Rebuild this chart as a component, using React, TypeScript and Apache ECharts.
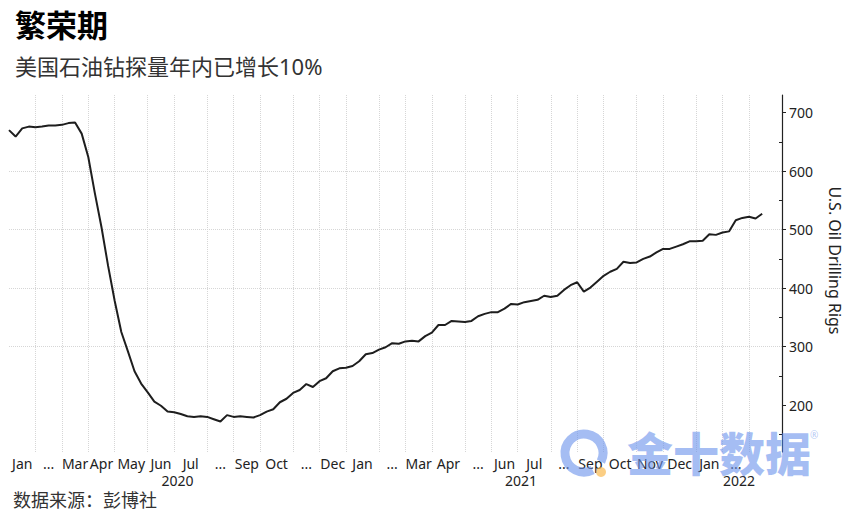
import React, { useEffect, useRef } from 'react'
import * as echarts from 'echarts'

// 每月的周数（2020年1月 ~ 2022年3月，周五数据）
const weeksInMonth = [5, 4, 4, 4, 5, 4, 5, 4, 4, 5, 4, 4, 5, 4, 4, 5, 4, 4, 5, 4, 4, 5, 4, 5, 4, 4, 2]
// 月份刻度标签（空间不够的月份用 ...）
const monthLabels = [
  'Jan', '...', 'Mar', 'Apr', 'May', 'Jun', 'Jul', '...', 'Sep', 'Oct', '...', 'Dec',
  'Jan', '...', 'Mar', 'Apr', '...', 'Jun', 'Jul', '...', 'Sep', 'Oct', 'Nov', 'Dec',
  'Jan', '...', '',
]
const yearLabels = ['2020', '2021', '2022']
const monthsInYear = [12, 12, 3]
const padWeeks = 3

// 美国石油钻井数（周）
const rigs = [
  // 2020
  670, 659, 673, 676, 675,
  676, 678, 678, 679,
  682, 683, 664, 624,
  562, 504, 438, 378,
  325, 292, 258, 237, 222,
  206, 199, 189, 188,
  185, 181, 180, 181, 180,
  176, 172, 183, 180,
  181, 180, 179, 183,
  189, 193, 205, 211, 221,
  226, 236, 231, 241,
  246, 258, 263, 264,
  // 2021
  267, 275, 287, 289, 295,
  299, 306, 305, 309,
  310, 309, 318, 324,
  337, 337, 344, 343, 342,
  344, 352, 356, 359,
  359, 365, 373, 372,
  376, 378, 380, 387, 385,
  387, 397, 405, 410,
  394, 401, 411, 421,
  428, 433, 445, 443, 444,
  450, 454, 461, 467,
  467, 471, 475, 480, 480,
  // 2022
  481, 492, 491, 495,
  497, 516, 520, 522,
  519, 527,
]

const yTicks = [200, 300, 400, 500, 600, 700]
const yMinorTicks = [150, 250, 350, 450, 550, 650]

const FONT = "'Noto Sans', 'Noto Sans CJK SC', sans-serif"
const TEXT = '#222'
const GRID = '#d6d6d6'

const App: React.FC = () => {
  const chartRef = useRef<HTMLDivElement>(null)

  useEffect(() => {
    if (!chartRef.current) return
    const chart = echarts.init(chartRef.current, undefined, { renderer: 'svg' })

    // 每月最后一周的位置
    const monthEnds: number[] = []
    let acc = -1
    weeksInMonth.forEach(w => {
      acc += w
      monthEnds.push(acc)
    })
    const totalWeeks = acc + 1 + padWeeks
    const lastIdx = totalWeeks - 1
    const weekCats = Array.from({ length: totalWeeks }, (_, i) => `w${i}`)
    // 半周刻度，用来把标签放在月份中间
    const halfCats = Array.from({ length: 2 * lastIdx + 1 }, (_, i) => `h${i}`)
    const gridIdx = new Set(monthEnds.slice(0, -1))

    const monthAt = new Map<number, string>()
    monthLabels.forEach((m, k) => {
      if (!m) return
      const start = k === 0 ? 0 : monthEnds[k - 1]
      monthAt.set(start + monthEnds[k], m)
    })
    const yearAt = new Map<number, string>()
    let mk = 0
    yearLabels.forEach((y, j) => {
      const start = mk === 0 ? 0 : monthEnds[mk - 1]
      mk += monthsInYear[j]
      const end = mk >= monthEnds.length ? lastIdx : monthEnds[mk - 1]
      yearAt.set(start + end, y)
    })

    const labelAxis = (map: Map<number, string>, offset: number) => ({
      type: 'category' as const,
      data: halfCats,
      boundaryGap: false,
      position: 'bottom' as const,
      offset,
      axisLine: { show: false },
      axisTick: { show: false },
      splitLine: { show: false },
      axisLabel: {
        show: true,
        interval: (idx: number) => map.has(idx),
        formatter: (_v: string, idx: number) => map.get(idx) ?? '',
        color: TEXT,
        fontSize: 14,
        fontFamily: FONT,
        margin: 4,
      },
    })

    chart.setOption({
      animation: false,
      backgroundColor: '#fff',
      textStyle: { fontFamily: FONT },
      title: [
        {
          text: '繁荣期',
          left: 15,
          top: 9,
          padding: 0,
          textStyle: { fontSize: 31, fontWeight: 'bold', color: '#000', fontFamily: FONT },
        },
        {
          text: '美国石油钻探量年内已增长10%',
          left: 15,
          top: 55,
          padding: 0,
          textStyle: { fontSize: 22, fontWeight: 'normal', color: '#333', fontFamily: FONT },
        },
        {
          text: '数据来源：彭博社',
          left: 13,
          top: 491,
          padding: 0,
          textStyle: { fontSize: 18, fontWeight: 'normal', color: '#333', fontFamily: FONT },
        },
      ],
      grid: { left: 9, right: 73, top: 95, bottom: 60, containLabel: false },
      xAxis: [
        {
          type: 'category',
          data: weekCats,
          boundaryGap: false,
          axisLine: { show: false },
          axisTick: { show: false },
          axisLabel: { show: false },
          splitLine: {
            show: true,
            interval: (idx: number) => gridIdx.has(idx),
            lineStyle: { color: GRID, type: 'dotted', width: 1 },
          },
        },
        labelAxis(monthAt, 0),
        labelAxis(yearAt, 17),
      ],
      yAxis: [
        {
          type: 'value',
          position: 'right',
          min: 120,
          max: 730,
          axisLine: { show: true, lineStyle: { color: TEXT, width: 1.2 } },
          axisTick: { show: true, length: 4, customValues: yTicks, lineStyle: { color: TEXT } },
          axisLabel: { customValues: yTicks, color: TEXT, fontSize: 14, margin: 7, fontFamily: FONT },
          splitLine: {
            show: true,
            showMinLine: false,
            showMaxLine: false,
            lineStyle: { color: GRID, type: 'dotted', width: 1 },
          },
          name: 'U.S. Oil Drilling Rigs',
          nameLocation: 'middle',
          nameRotate: -90,
          nameGap: 45,
          nameTextStyle: { color: TEXT, fontSize: 16, fontFamily: FONT, padding: [0, 26, 0, 0] },
        },
        {
          type: 'value',
          position: 'right',
          min: 120,
          max: 730,
          axisLine: { show: false },
          axisTick: { show: true, inside: true, length: 3, customValues: yMinorTicks, lineStyle: { color: TEXT } },
          axisLabel: { show: false },
          splitLine: { show: false },
        },
      ],
      series: [
        {
          type: 'line',
          data: rigs,
          xAxisIndex: 0,
          yAxisIndex: 0,
          symbol: 'none',
          lineStyle: { color: '#1e1e1e', width: 2 },
        },
      ],
      graphic: [
        {
          type: 'arc',
          z: 100,
          shape: { cx: 584, cy: 453, r: 19, startAngle: Math.PI * 0.35, endAngle: Math.PI * 2.15 },
          style: { stroke: 'rgba(105,145,235,0.6)', lineWidth: 9, fill: 'none' },
        },
        {
          type: 'circle',
          z: 100,
          shape: { cx: 601, cy: 472, r: 5 },
          style: { fill: 'rgba(250,185,80,0.7)' },
        },
        {
          type: 'text',
          z: 100,
          x: 627,
          y: 428,
          style: {
            text: '金十数据',
            fontSize: 46,
            fontWeight: 900,
            fontFamily: "'Noto Sans CJK SC', sans-serif",
            fill: 'rgba(105,145,235,0.6)',
          },
        },
        {
          type: 'text',
          z: 100,
          x: 810,
          y: 430,
          style: { text: '®', fontSize: 10, fill: 'rgba(105,145,235,0.5)', fontFamily: FONT },
        },
      ],
    })

    return () => {
      chart.dispose()
    }
  }, [])

  return (
    <div
      ref={chartRef}
      style={{ position: 'fixed', left: 0, top: 0, width: '855px', height: '512px' }}
    />
  )
}

export default App
